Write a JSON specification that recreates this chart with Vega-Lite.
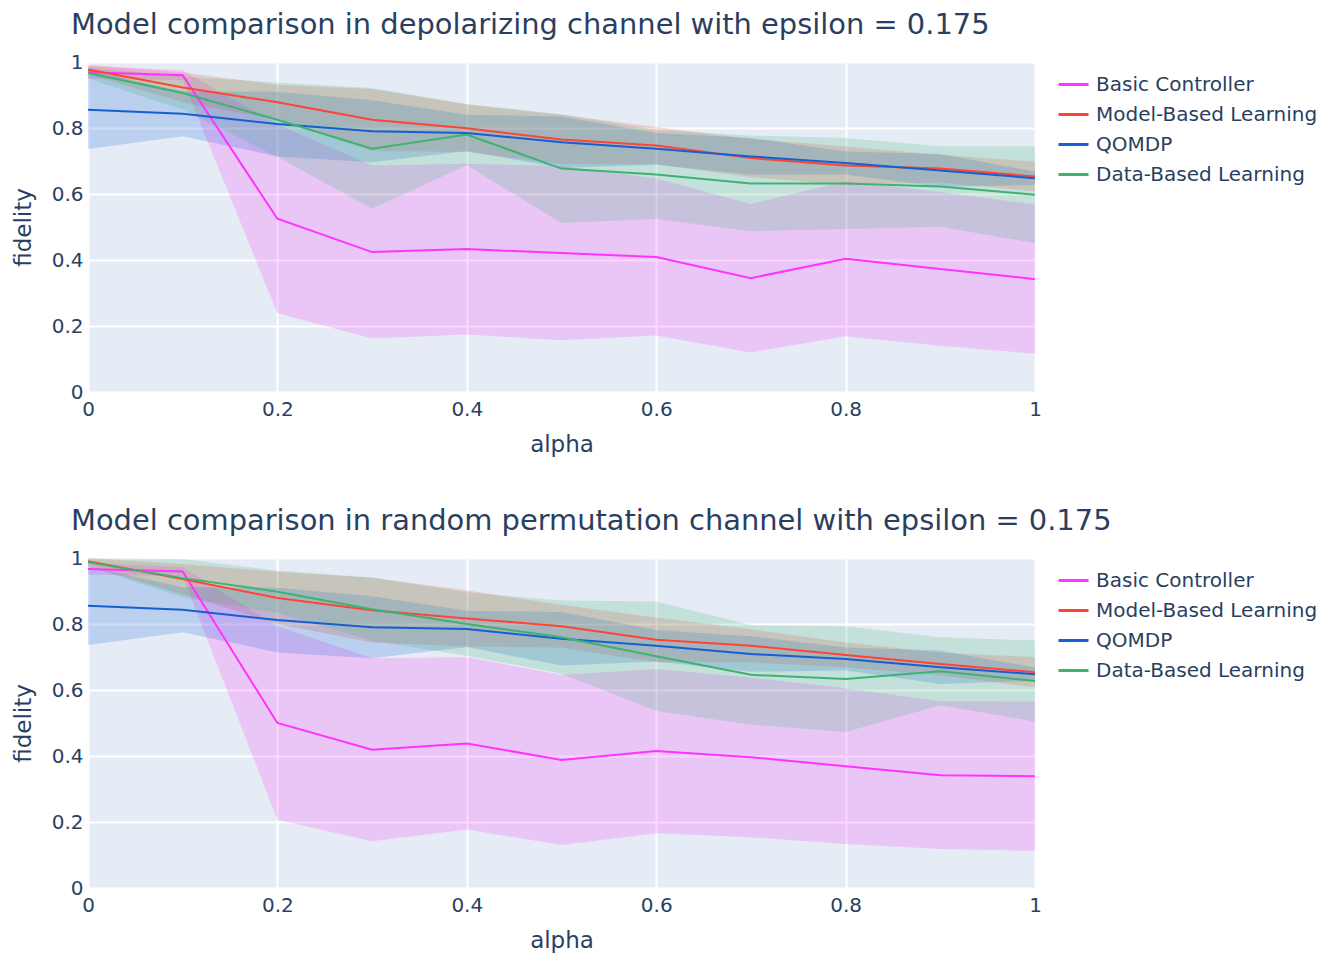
{
  "$schema": "https://vega.github.io/schema/vega-lite/v6.json",
  "background": "white",
  "padding": {"left": 12, "top": 11, "right": 5, "bottom": 5},
  "datasets": {
    "fid": [
      {"panel": "dep", "series": "Basic Controller", "alpha": 0.0, "mean": 0.969, "lo": 0.95, "hi": 0.988},
      {"panel": "dep", "series": "Basic Controller", "alpha": 0.1, "mean": 0.96, "lo": 0.945, "hi": 0.975},
      {"panel": "dep", "series": "Basic Controller", "alpha": 0.2, "mean": 0.525, "lo": 0.239, "hi": 0.811},
      {"panel": "dep", "series": "Basic Controller", "alpha": 0.3, "mean": 0.424, "lo": 0.162, "hi": 0.686},
      {"panel": "dep", "series": "Basic Controller", "alpha": 0.4, "mean": 0.433, "lo": 0.174, "hi": 0.692},
      {"panel": "dep", "series": "Basic Controller", "alpha": 0.5, "mean": 0.421, "lo": 0.157, "hi": 0.685},
      {"panel": "dep", "series": "Basic Controller", "alpha": 0.6, "mean": 0.409, "lo": 0.171, "hi": 0.647},
      {"panel": "dep", "series": "Basic Controller", "alpha": 0.7, "mean": 0.345, "lo": 0.12, "hi": 0.57},
      {"panel": "dep", "series": "Basic Controller", "alpha": 0.8, "mean": 0.404, "lo": 0.169, "hi": 0.639},
      {"panel": "dep", "series": "Basic Controller", "alpha": 0.9, "mean": 0.373, "lo": 0.14, "hi": 0.606},
      {"panel": "dep", "series": "Basic Controller", "alpha": 1.0, "mean": 0.342, "lo": 0.116, "hi": 0.568},
      {"panel": "dep", "series": "Model-Based Learning", "alpha": 0.0, "mean": 0.977, "lo": 0.962, "hi": 0.992},
      {"panel": "dep", "series": "Model-Based Learning", "alpha": 0.1, "mean": 0.923, "lo": 0.878, "hi": 0.968},
      {"panel": "dep", "series": "Model-Based Learning", "alpha": 0.2, "mean": 0.878, "lo": 0.825, "hi": 0.931},
      {"panel": "dep", "series": "Model-Based Learning", "alpha": 0.3, "mean": 0.825, "lo": 0.73, "hi": 0.918},
      {"panel": "dep", "series": "Model-Based Learning", "alpha": 0.4, "mean": 0.799, "lo": 0.727, "hi": 0.871},
      {"panel": "dep", "series": "Model-Based Learning", "alpha": 0.5, "mean": 0.765, "lo": 0.69, "hi": 0.84},
      {"panel": "dep", "series": "Model-Based Learning", "alpha": 0.6, "mean": 0.747, "lo": 0.69, "hi": 0.803},
      {"panel": "dep", "series": "Model-Based Learning", "alpha": 0.7, "mean": 0.709, "lo": 0.651, "hi": 0.767},
      {"panel": "dep", "series": "Model-Based Learning", "alpha": 0.8, "mean": 0.686, "lo": 0.628, "hi": 0.744},
      {"panel": "dep", "series": "Model-Based Learning", "alpha": 0.9, "mean": 0.677, "lo": 0.635, "hi": 0.719},
      {"panel": "dep", "series": "Model-Based Learning", "alpha": 1.0, "mean": 0.653, "lo": 0.608, "hi": 0.698},
      {"panel": "dep", "series": "QOMDP", "alpha": 0.0, "mean": 0.855, "lo": 0.736, "hi": 0.974},
      {"panel": "dep", "series": "QOMDP", "alpha": 0.1, "mean": 0.843, "lo": 0.775, "hi": 0.911},
      {"panel": "dep", "series": "QOMDP", "alpha": 0.2, "mean": 0.812, "lo": 0.714, "hi": 0.91},
      {"panel": "dep", "series": "QOMDP", "alpha": 0.3, "mean": 0.79, "lo": 0.696, "hi": 0.884},
      {"panel": "dep", "series": "QOMDP", "alpha": 0.4, "mean": 0.785, "lo": 0.73, "hi": 0.84},
      {"panel": "dep", "series": "QOMDP", "alpha": 0.5, "mean": 0.757, "lo": 0.679, "hi": 0.835},
      {"panel": "dep", "series": "QOMDP", "alpha": 0.6, "mean": 0.737, "lo": 0.689, "hi": 0.785},
      {"panel": "dep", "series": "QOMDP", "alpha": 0.7, "mean": 0.714, "lo": 0.658, "hi": 0.77},
      {"panel": "dep", "series": "QOMDP", "alpha": 0.8, "mean": 0.694, "lo": 0.659, "hi": 0.729},
      {"panel": "dep", "series": "QOMDP", "alpha": 0.9, "mean": 0.671, "lo": 0.621, "hi": 0.721},
      {"panel": "dep", "series": "QOMDP", "alpha": 1.0, "mean": 0.648, "lo": 0.628, "hi": 0.668},
      {"panel": "dep", "series": "Data-Based Learning", "alpha": 0.0, "mean": 0.967, "lo": 0.95, "hi": 0.984},
      {"panel": "dep", "series": "Data-Based Learning", "alpha": 0.1, "mean": 0.906, "lo": 0.856, "hi": 0.956},
      {"panel": "dep", "series": "Data-Based Learning", "alpha": 0.2, "mean": 0.825, "lo": 0.712, "hi": 0.938},
      {"panel": "dep", "series": "Data-Based Learning", "alpha": 0.3, "mean": 0.737, "lo": 0.555, "hi": 0.921},
      {"panel": "dep", "series": "Data-Based Learning", "alpha": 0.4, "mean": 0.78, "lo": 0.687, "hi": 0.873},
      {"panel": "dep", "series": "Data-Based Learning", "alpha": 0.5, "mean": 0.677, "lo": 0.512, "hi": 0.842},
      {"panel": "dep", "series": "Data-Based Learning", "alpha": 0.6, "mean": 0.659, "lo": 0.524, "hi": 0.794},
      {"panel": "dep", "series": "Data-Based Learning", "alpha": 0.7, "mean": 0.632, "lo": 0.487, "hi": 0.777},
      {"panel": "dep", "series": "Data-Based Learning", "alpha": 0.8, "mean": 0.632, "lo": 0.494, "hi": 0.77},
      {"panel": "dep", "series": "Data-Based Learning", "alpha": 0.9, "mean": 0.623, "lo": 0.501, "hi": 0.745},
      {"panel": "dep", "series": "Data-Based Learning", "alpha": 1.0, "mean": 0.598, "lo": 0.451, "hi": 0.745},
      {"panel": "perm", "series": "Basic Controller", "alpha": 0.0, "mean": 0.967, "lo": 0.95, "hi": 0.985},
      {"panel": "perm", "series": "Basic Controller", "alpha": 0.1, "mean": 0.959, "lo": 0.945, "hi": 0.973},
      {"panel": "perm", "series": "Basic Controller", "alpha": 0.2, "mean": 0.5, "lo": 0.207, "hi": 0.793},
      {"panel": "perm", "series": "Basic Controller", "alpha": 0.3, "mean": 0.419, "lo": 0.142, "hi": 0.696},
      {"panel": "perm", "series": "Basic Controller", "alpha": 0.4, "mean": 0.438, "lo": 0.177, "hi": 0.699},
      {"panel": "perm", "series": "Basic Controller", "alpha": 0.5, "mean": 0.388, "lo": 0.13, "hi": 0.646},
      {"panel": "perm", "series": "Basic Controller", "alpha": 0.6, "mean": 0.415, "lo": 0.166, "hi": 0.664},
      {"panel": "perm", "series": "Basic Controller", "alpha": 0.7, "mean": 0.396, "lo": 0.154, "hi": 0.638},
      {"panel": "perm", "series": "Basic Controller", "alpha": 0.8, "mean": 0.369, "lo": 0.133, "hi": 0.605},
      {"panel": "perm", "series": "Basic Controller", "alpha": 0.9, "mean": 0.342, "lo": 0.118, "hi": 0.566},
      {"panel": "perm", "series": "Basic Controller", "alpha": 1.0, "mean": 0.339, "lo": 0.113, "hi": 0.565},
      {"panel": "perm", "series": "Model-Based Learning", "alpha": 0.0, "mean": 0.99, "lo": 0.975, "hi": 1.0},
      {"panel": "perm", "series": "Model-Based Learning", "alpha": 0.1, "mean": 0.936, "lo": 0.89, "hi": 0.982},
      {"panel": "perm", "series": "Model-Based Learning", "alpha": 0.2, "mean": 0.879, "lo": 0.8, "hi": 0.958},
      {"panel": "perm", "series": "Model-Based Learning", "alpha": 0.3, "mean": 0.842, "lo": 0.744, "hi": 0.94},
      {"panel": "perm", "series": "Model-Based Learning", "alpha": 0.4, "mean": 0.817, "lo": 0.732, "hi": 0.902},
      {"panel": "perm", "series": "Model-Based Learning", "alpha": 0.5, "mean": 0.793, "lo": 0.728, "hi": 0.858},
      {"panel": "perm", "series": "Model-Based Learning", "alpha": 0.6, "mean": 0.752, "lo": 0.684, "hi": 0.82},
      {"panel": "perm", "series": "Model-Based Learning", "alpha": 0.7, "mean": 0.734, "lo": 0.684, "hi": 0.784},
      {"panel": "perm", "series": "Model-Based Learning", "alpha": 0.8, "mean": 0.706, "lo": 0.668, "hi": 0.744},
      {"panel": "perm", "series": "Model-Based Learning", "alpha": 0.9, "mean": 0.679, "lo": 0.645, "hi": 0.713},
      {"panel": "perm", "series": "Model-Based Learning", "alpha": 1.0, "mean": 0.654, "lo": 0.608, "hi": 0.7},
      {"panel": "perm", "series": "QOMDP", "alpha": 0.0, "mean": 0.855, "lo": 0.736, "hi": 0.974},
      {"panel": "perm", "series": "QOMDP", "alpha": 0.1, "mean": 0.843, "lo": 0.775, "hi": 0.911},
      {"panel": "perm", "series": "QOMDP", "alpha": 0.2, "mean": 0.812, "lo": 0.714, "hi": 0.91},
      {"panel": "perm", "series": "QOMDP", "alpha": 0.3, "mean": 0.79, "lo": 0.696, "hi": 0.884},
      {"panel": "perm", "series": "QOMDP", "alpha": 0.4, "mean": 0.785, "lo": 0.73, "hi": 0.84},
      {"panel": "perm", "series": "QOMDP", "alpha": 0.5, "mean": 0.755, "lo": 0.674, "hi": 0.836},
      {"panel": "perm", "series": "QOMDP", "alpha": 0.6, "mean": 0.734, "lo": 0.686, "hi": 0.782},
      {"panel": "perm", "series": "QOMDP", "alpha": 0.7, "mean": 0.709, "lo": 0.655, "hi": 0.763},
      {"panel": "perm", "series": "QOMDP", "alpha": 0.8, "mean": 0.694, "lo": 0.659, "hi": 0.729},
      {"panel": "perm", "series": "QOMDP", "alpha": 0.9, "mean": 0.669, "lo": 0.618, "hi": 0.72},
      {"panel": "perm", "series": "QOMDP", "alpha": 1.0, "mean": 0.648, "lo": 0.628, "hi": 0.668},
      {"panel": "perm", "series": "Data-Based Learning", "alpha": 0.0, "mean": 0.987, "lo": 0.975, "hi": 0.999},
      {"panel": "perm", "series": "Data-Based Learning", "alpha": 0.1, "mean": 0.939, "lo": 0.88, "hi": 0.997},
      {"panel": "perm", "series": "Data-Based Learning", "alpha": 0.2, "mean": 0.898, "lo": 0.834, "hi": 0.962},
      {"panel": "perm", "series": "Data-Based Learning", "alpha": 0.3, "mean": 0.845, "lo": 0.749, "hi": 0.941},
      {"panel": "perm", "series": "Data-Based Learning", "alpha": 0.4, "mean": 0.8, "lo": 0.704, "hi": 0.896},
      {"panel": "perm", "series": "Data-Based Learning", "alpha": 0.5, "mean": 0.76, "lo": 0.649, "hi": 0.871},
      {"panel": "perm", "series": "Data-Based Learning", "alpha": 0.6, "mean": 0.702, "lo": 0.536, "hi": 0.868},
      {"panel": "perm", "series": "Data-Based Learning", "alpha": 0.7, "mean": 0.646, "lo": 0.495, "hi": 0.797},
      {"panel": "perm", "series": "Data-Based Learning", "alpha": 0.8, "mean": 0.633, "lo": 0.473, "hi": 0.793},
      {"panel": "perm", "series": "Data-Based Learning", "alpha": 0.9, "mean": 0.657, "lo": 0.554, "hi": 0.76},
      {"panel": "perm", "series": "Data-Based Learning", "alpha": 1.0, "mean": 0.627, "lo": 0.504, "hi": 0.75}
    ]
  },
  "data": {"name": "fid"},
  "config": {
    "font": "DejaVu Sans",
    "view": {"fill": "#E5ECF6", "stroke": null},
    "concat": {"spacing": 51},
    "axis": {
      "domain": false, "ticks": false, "gridColor": "white", "gridWidth": 2,
      "labelFont": "DejaVu Sans", "labelFontSize": 20, "labelColor": "#2a3f5f",
      "titleFont": "DejaVu Sans", "titleFontSize": 23, "titleColor": "#2a3f5f", "titleFontWeight": "normal"
    },
    "legend": {
      "labelFont": "DejaVu Sans", "labelFontSize": 20, "labelColor": "#2a3f5f",
      "symbolType": "stroke", "symbolSize": 900, "symbolStrokeWidth": 3,
      "rowPadding": 3, "offset": 16, "padding": 6, "labelOffset": 6, "labelLimit": 400
    },
    "title": {"font": "DejaVu Sans", "fontSize": 28.9, "fontWeight": "normal", "color": "#2a3f5f", "anchor": "start", "frame": "group", "dx": -17, "offset": 12}
  },
  "vconcat": [
    {
      "title": "Model comparison in depolarizing channel with epsilon = 0.175",
      "width": 947, "height": 330,
      "transform": [{"filter": "datum.panel === 'dep'"}],
      "layer": [
        {
          "mark": {"type": "area", "opacity": 0.2, "clip": true},
          "encoding": {
            "x": {"field": "alpha", "type": "quantitative", "scale": {"domain": [0, 1], "nice": false}, "axis": {"values": [0, 0.2, 0.4, 0.6, 0.8, 1], "format": "~g", "labelFlush": false, "labelPadding": 7, "titlePadding": 14}, "title": "alpha"},
            "y": {"field": "lo", "type": "quantitative", "scale": {"domain": [0, 1], "nice": false}, "axis": {"values": [0, 0.2, 0.4, 0.6, 0.8, 1], "format": "~g", "labelPadding": 5, "titlePadding": 16}, "title": "fidelity"},
            "y2": {"field": "hi"},
            "fill": {"field": "series", "type": "nominal", "scale": {"domain": ["Data-Based Learning", "QOMDP", "Model-Based Learning", "Basic Controller"], "range": ["#3CB371", "#1560D0", "#FF4433", "#FF33FF"]}, "legend": null}
          }
        },
        {
          "mark": {"type": "line", "strokeWidth": 2, "clip": true},
          "encoding": {
            "x": {"field": "alpha", "type": "quantitative"},
            "y": {"field": "mean", "type": "quantitative"},
            "color": {"field": "series", "type": "nominal", "scale": {"domain": ["Basic Controller", "Model-Based Learning", "QOMDP", "Data-Based Learning"], "range": ["#FF33FF", "#FF4433", "#1560D0", "#3CB371"]}, "legend": {"title": null}}
          }
        }
      ]
    },
    {
      "title": "Model comparison in random permutation channel with epsilon = 0.175",
      "width": 947, "height": 330,
      "transform": [{"filter": "datum.panel === 'perm'"}],
      "layer": [
        {
          "mark": {"type": "area", "opacity": 0.2, "clip": true},
          "encoding": {
            "x": {"field": "alpha", "type": "quantitative", "scale": {"domain": [0, 1], "nice": false}, "axis": {"values": [0, 0.2, 0.4, 0.6, 0.8, 1], "format": "~g", "labelFlush": false, "labelPadding": 7, "titlePadding": 14}, "title": "alpha"},
            "y": {"field": "lo", "type": "quantitative", "scale": {"domain": [0, 1], "nice": false}, "axis": {"values": [0, 0.2, 0.4, 0.6, 0.8, 1], "format": "~g", "labelPadding": 5, "titlePadding": 16}, "title": "fidelity"},
            "y2": {"field": "hi"},
            "fill": {"field": "series", "type": "nominal", "scale": {"domain": ["Data-Based Learning", "QOMDP", "Model-Based Learning", "Basic Controller"], "range": ["#3CB371", "#1560D0", "#FF4433", "#FF33FF"]}, "legend": null}
          }
        },
        {
          "mark": {"type": "line", "strokeWidth": 2, "clip": true},
          "encoding": {
            "x": {"field": "alpha", "type": "quantitative"},
            "y": {"field": "mean", "type": "quantitative"},
            "color": {"field": "series", "type": "nominal", "scale": {"domain": ["Basic Controller", "Model-Based Learning", "QOMDP", "Data-Based Learning"], "range": ["#FF33FF", "#FF4433", "#1560D0", "#3CB371"]}, "legend": {"title": null}}
          }
        }
      ]
    }
  ],
  "resolve": {"legend": {"color": "independent", "fill": "independent"}, "scale": {"color": "independent", "fill": "independent"}}
}
